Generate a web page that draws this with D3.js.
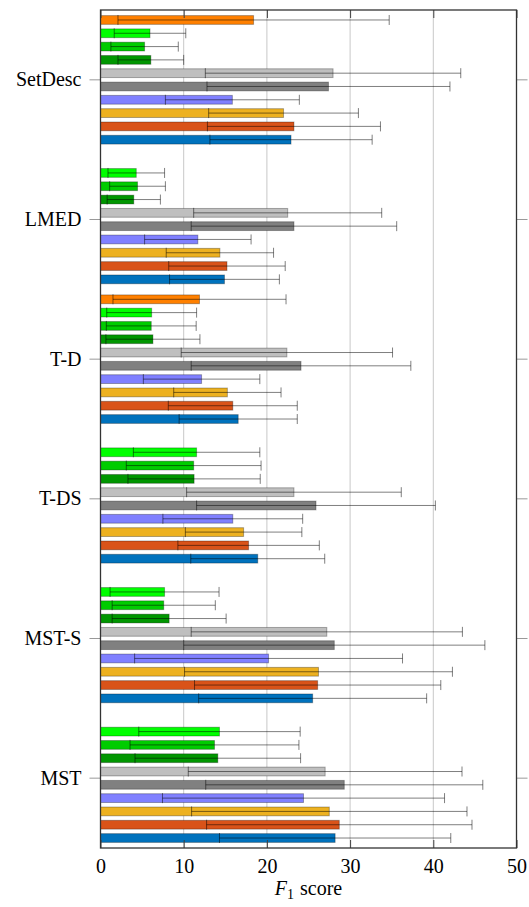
<!DOCTYPE html>
<html>
<head>
<meta charset="utf-8">
<script src="https://cdn.jsdelivr.net/npm/d3@7"></script>
<style>
  body { margin: 0; background: #fff; }
  svg text { font-family: 'Liberation Serif', 'Times New Roman', serif; }
</style>
</head>
<body>
<svg id="chart" width="529" height="907"></svg>
<script>
// categories, top to bottom
const categories = ['SetDesc', 'LMED', 'T-D', 'T-DS', 'MST-S', 'MST'];
const xTicks = [0, 10, 20, 30, 40, 50];

// one entry per series, drawn top to bottom inside each group
const seriesIds = ['s1', 's2', 's3', 's4', 's5', 's6', 's7', 's8', 's9', 's10'];
const seriesColors = ['#ff8000', '#00ff00', '#00cc00', '#009600', '#bfbfbf',
                      '#808080', '#8080ff', '#edb120', '#d95319', '#0072bd'];

// mean F1 per category (null = not run)
const s1Mean = [18.4, null, 11.9, null, null, null];
const s2Mean = [5.95, 4.3, 6.15, 11.55, 7.7, 14.3];
const s3Mean = [5.3, 4.45, 6.1, 11.2, 7.6, 13.7];
const s4Mean = [6.05, 4.0, 6.3, 11.25, 8.25, 14.1];
const s5Mean = [27.95, 22.5, 22.4, 23.25, 27.2, 27.0];
const s6Mean = [27.4, 23.25, 24.1, 25.9, 28.1, 29.3];
const s7Mean = [15.85, 11.7, 12.15, 15.9, 20.2, 24.4];
const s8Mean = [22.0, 14.35, 15.25, 17.2, 26.2, 27.5];
const s9Mean = [23.25, 15.2, 15.9, 17.8, 26.1, 28.7];
const s10Mean = [22.9, 14.9, 16.55, 18.9, 25.5, 28.2];

// standard deviation per category
const s1Err = [16.3, null, 10.4, null, null, null];
const s2Err = [4.3, 3.4, 5.4, 7.6, 6.55, 9.7];
const s3Err = [4.05, 3.35, 5.4, 8.1, 6.2, 10.15];
const s4Err = [3.95, 3.2, 5.65, 7.95, 6.85, 9.95];
const s5Err = [15.35, 11.3, 12.7, 12.9, 16.3, 16.45];
const s6Err = [14.6, 12.35, 13.2, 14.35, 18.1, 16.65];
const s7Err = [8.05, 6.4, 7.0, 8.4, 16.1, 16.95];
const s8Err = [9.0, 6.45, 6.45, 7.0, 16.1, 16.55];
const s9Err = [10.4, 7.0, 7.75, 8.5, 14.8, 15.95];
const s10Err = [9.75, 6.6, 7.1, 8.05, 13.7, 13.9];

const allMeans = [s1Mean, s2Mean, s3Mean, s4Mean, s5Mean, s6Mean, s7Mean, s8Mean, s9Mean, s10Mean];
const allErrs = [s1Err, s2Err, s3Err, s4Err, s5Err, s6Err, s7Err, s8Err, s9Err, s10Err];

const rows = [];
seriesIds.forEach((id, i) => {
  categories.forEach((cat, j) => {
    if (allMeans[i][j] == null) return;
    rows.push({ id, cat, color: seriesColors[i], mean: allMeans[i][j], err: allErrs[i][j] });
  });
});

const serif = "'Liberation Serif', 'Times New Roman', serif";

const svg = d3.select('#chart'),
      margin = { top: 10, right: 12.5, bottom: 59, left: 100.5 },
      width = +svg.attr('width') - margin.left - margin.right,
      height = +svg.attr('height') - margin.top - margin.bottom,
      g = svg.append('g').attr('transform', `translate(${margin.left}, ${margin.top})`);

const x = d3.scaleLinear().domain([0, 50]).range([0, width]);
const y = d3.scaleBand().domain(categories).range([0, height]).padding(0);
const slot = d3.scalePoint().domain(seriesIds).range([0, y.bandwidth()]).padding(0.75);
const barH = slot.step() * 0.66;
const capH = 10;

// grid
g.append('g')
  .selectAll('line')
  .data(xTicks.slice(1, -1))
  .enter().append('line')
  .attr('x1', (d) => x(d))
  .attr('x2', (d) => x(d))
  .attr('y1', 0)
  .attr('y2', height)
  .attr('stroke', '#c8c8c8')
  .attr('stroke-width', 1);

// bars
g.append('g')
  .selectAll('rect')
  .data(rows)
  .enter().append('rect')
  .attr('x', x(0))
  .attr('y', (d) => y(d.cat) + slot(d.id) - barH / 2)
  .attr('width', (d) => x(d.mean) - x(0))
  .attr('height', barH)
  .attr('fill', (d) => d.color)
  .attr('stroke', '#000')
  .attr('stroke-opacity', 0.3)
  .attr('stroke-width', 1);

// error bars
const eb = g.append('g')
  .attr('stroke', '#000')
  .attr('stroke-opacity', 0.5)
  .attr('stroke-width', 1)
  .selectAll('g')
  .data(rows)
  .enter().append('g')
  .attr('transform', (d) => `translate(0, ${y(d.cat) + slot(d.id)})`);

eb.append('line')
  .attr('x1', (d) => x(d.mean - d.err))
  .attr('x2', (d) => x(d.mean + d.err))
  .attr('y1', 0)
  .attr('y2', 0);

eb.selectAll('line.cap')
  .data((d) => [d.mean - d.err, d.mean + d.err])
  .enter().append('line')
  .attr('class', 'cap')
  .attr('x1', (v) => x(v))
  .attr('x2', (v) => x(v))
  .attr('y1', -capH / 2)
  .attr('y2', capH / 2);

// axes
const styleAxis = (sel, color) => {
  sel.attr('font-family', serif).attr('font-size', 20);
  sel.select('.domain').remove();
  sel.selectAll('.tick line').attr('stroke', color);
  sel.selectAll('.tick text')
    .attr('fill', '#000')
    .style('font-size', '20px')
    .style('font-family', serif);
};

g.append('g')
  .attr('transform', `translate(0, ${height})`)
  .call(d3.axisBottom(x).tickValues(xTicks).tickSize(-8).tickPadding(11))
  .call((s) => styleAxis(s, '#404040'));

g.append('g')
  .call(d3.axisTop(x).tickValues(xTicks).tickSize(-8).tickFormat(''))
  .call((s) => styleAxis(s, '#404040'));

g.append('g')
  .call(d3.axisLeft(y).tickSize(11).tickPadding(8))
  .call((s) => styleAxis(s, '#999'));

g.append('g')
  .attr('transform', `translate(${width}, 0)`)
  .call(d3.axisRight(y).tickSize(11).tickFormat(''))
  .call((s) => styleAxis(s, '#999'));

// frame
g.append('rect')
  .attr('width', width)
  .attr('height', height)
  .attr('fill', 'none')
  .attr('stroke', '#333')
  .attr('stroke-width', 1.3);

// x label
const label = svg.append('text')
  .attr('x', margin.left + width / 2)
  .attr('y', 895)
  .attr('text-anchor', 'middle')
  .style('font-family', serif)
  .style('font-size', '20px');
label.append('tspan').style('font-style', 'italic').text('F');
label.append('tspan').attr('dy', 4).style('font-size', '14px').text('1');
label.append('tspan').attr('dy', -4).attr('dx', 6).text('score');
</script>
</body>
</html>
